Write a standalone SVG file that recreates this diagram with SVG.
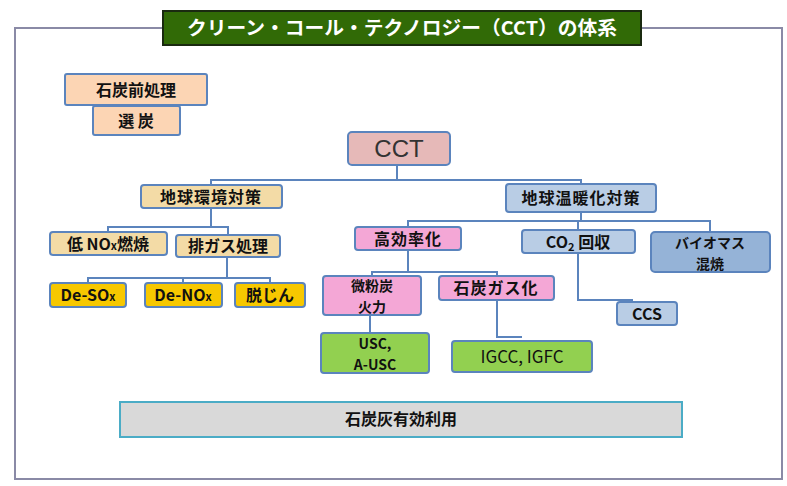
<svg xmlns="http://www.w3.org/2000/svg" width="787" height="486" viewBox="0 0 787 486">
<style>
.box{stroke:#5b84bd;stroke-width:2}
.t{font-family:"Noto Sans CJK JP","Noto Sans",sans-serif;font-weight:bold;font-size:16px;fill:#111;text-anchor:middle}
.t2{font-size:14px}
.conn{fill:none;stroke:#5b84bd;stroke-width:2}
.peach{fill:#fcd5b4}
.tan{fill:#f3dba6}
.lb{fill:#b9cde5}
.mb{fill:#95b3d7}
.pink{fill:#f4a7d6}
.yel{fill:#f7c800}
.grn{fill:#92d050}
</style>
<rect width="787" height="486" fill="#ffffff"/>
<g id="frame">
<rect x="15" y="28" width="767" height="451" fill="none" stroke="#8a8aa6" stroke-width="2"/>
</g>
<g id="title">
<rect x="163" y="11" width="478" height="34" fill="#316a06" stroke="#1a2a10" stroke-width="2"/>
<text x="402" y="35" font-family="'Noto Sans CJK JP',sans-serif" font-weight="bold" font-size="19" fill="#ffffff" text-anchor="middle" textLength="430" lengthAdjust="spacingAndGlyphs">クリーン・コール・テクノロジー（CCT）の体系</text>
</g>
<g id="connectors">
<path class="conn" d="M397 165V180M211 185V180H581V184"/>
<path class="conn" d="M211 208V227M108 232V227H228V235"/>
<path class="conn" d="M227 257V278M88 283V278H270V283M183 278V283"/>
<path class="conn" d="M581 212V221M408 227V221H710V232M578 221V230"/>
<path class="conn" d="M408 250V272M372 276V272H497V276"/>
<path class="conn" d="M370 315V333"/>
<path class="conn" d="M497 300V337H522"/>
<path class="conn" d="M578 253V300H632V302"/>
</g>
<g id="n-pre">
<rect class="box peach" x="65" y="74" width="142" height="31" rx="2"/>
<text class="t" x="136" y="96">石炭前処理</text>
</g>
<g id="n-sentan">
<rect class="box peach" x="93" y="106" width="87" height="29" rx="2"/>
<text class="t" x="136" y="127">選 炭</text>
</g>
<g id="n-cct">
<rect class="box" x="348" y="132" width="102" height="33" rx="4" fill="#e6b9b8"/>
<text x="399" y="157" font-family="'Liberation Sans',Arial,sans-serif" font-size="24" fill="#333" text-anchor="middle">CCT</text>
</g>
<g id="n-env">
<rect class="box tan" x="141" y="185" width="141" height="23" rx="3"/>
<text class="t" x="211" y="203" letter-spacing="1">地球環境対策</text>
</g>
<g id="n-warm">
<rect class="box lb" x="506" y="184" width="150" height="28" rx="3"/>
<text class="t" x="581" y="204" letter-spacing="1">地球温暖化対策</text>
</g>
<g id="n-lownox">
<rect class="box tan" x="50" y="232" width="117" height="23" rx="3"/>
<text class="t" x="108" y="250">低 NO<tspan font-size="11">x</tspan>燃焼</text>
</g>
<g id="n-exhaust">
<rect class="box tan" x="176" y="235" width="104" height="22" rx="3"/>
<text class="t" x="228" y="252">排ガス処理</text>
</g>
<g id="n-desox">
<rect class="box yel" x="50" y="283" width="76" height="24" rx="3"/>
<text class="t" x="88" y="301">De-SO<tspan font-size="11">x</tspan></text>
</g>
<g id="n-denox">
<rect class="box yel" x="145" y="283" width="77" height="24" rx="3"/>
<text class="t" x="183" y="301">De-NO<tspan font-size="11">x</tspan></text>
</g>
<g id="n-dust">
<rect class="box yel" x="235" y="283" width="70" height="24" rx="3"/>
<text class="t" x="270" y="301">脱じん</text>
</g>
<g id="n-eff">
<rect class="box pink" x="355" y="227" width="106" height="23" rx="3"/>
<text class="t" x="408" y="245" letter-spacing="1">高効率化</text>
</g>
<g id="n-co2">
<rect class="box lb" x="522" y="230" width="113" height="23" rx="3"/>
<text class="t" x="578" y="248">CO<tspan font-size="11" dy="3">2</tspan><tspan dy="-3"> 回収</tspan></text>
</g>
<g id="n-bio">
<rect class="box mb" x="651" y="232" width="119" height="40" rx="4"/>
<text class="t t2" x="710" y="248">バイオマス</text>
<text class="t t2" x="710" y="269">混焼</text>
</g>
<g id="n-pc">
<rect class="box pink" x="323" y="276" width="98" height="39" rx="3"/>
<text class="t t2" x="372" y="291">微粉炭</text>
<text class="t t2" x="372" y="312">火力</text>
</g>
<g id="n-gas">
<rect class="box pink" x="439" y="276" width="115" height="24" rx="3"/>
<text class="t" x="496" y="294" letter-spacing="1">石炭ガス化</text>
</g>
<g id="n-ccs">
<rect class="box lb" x="617" y="302" width="60" height="23" rx="3"/>
<text class="t" x="647" y="320">CCS</text>
</g>
<g id="n-usc">
<rect class="box grn" x="321" y="333" width="108" height="40" rx="3"/>
<text class="t t2" x="375" y="349">USC,</text>
<text class="t t2" x="375" y="370">A-USC</text>
</g>
<g id="n-igcc">
<rect class="box grn" x="452" y="341" width="140" height="31" rx="3"/>
<text x="522" y="363" font-family="'Noto Sans CJK JP',sans-serif" font-size="17" fill="#111" text-anchor="middle">IGCC, IGFC</text>
</g>
<g id="n-ash">
<rect x="120" y="402" width="562" height="35" fill="#d9d9d9" stroke="#4bacc6" stroke-width="2"/>
<text class="t" x="401" y="425" font-size="17">石炭灰有効利用</text>
</g>
</svg>
